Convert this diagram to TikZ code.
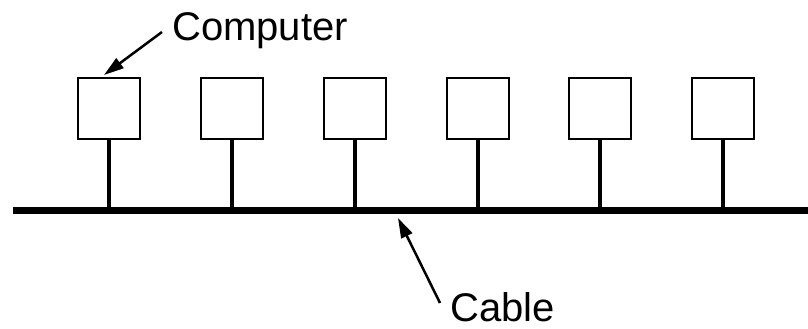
\documentclass[tikz,border=0pt]{standalone}
\usepackage{fontspec}
\setmainfont{Liberation Sans}
\usetikzlibrary{arrows.meta}
\begin{document}
\begin{tikzpicture}[x=1pt,y=1pt,
  computer/.style={draw,line width=2pt,minimum width=62pt,minimum height=61pt,inner sep=0pt,fill=white},
  stem/.style={line width=4.5pt},
  cableline/.style={line width=7pt},
  pointer/.style={line width=2.5pt,-{Triangle[length=20pt,width=12pt]}},
  lbl/.style={font=\fontsize{40}{44}\selectfont,inner sep=0pt,anchor=base west}]
\useasboundingbox (0,0) rectangle (808,329);
\foreach \i/\x in {1/109,2/232,3/355,4/478,5/600,6/723}{
  \node[computer] (c\i) at (\x,220.5) {};
  \coordinate (b\i) at (\x,118.5);
  \draw[stem] (c\i.south) -- (b\i);
}
\coordinate (cl) at (13,118.5);
\coordinate (cr) at (808,118.5);
\draw[cableline] (cl) -- (cr);
\node[lbl] (comp) at (172,288) {Computer};
\node[lbl] (cab) at (450,7) {Cable};
\coordinate (ca) at (162,297);
\coordinate (ct) at (104,254);
\draw[pointer] (ca) -- (ct);
\coordinate (ka) at (440,26);
\coordinate (kt) at (398,111);
\draw[pointer] (ka) -- (kt);
\end{tikzpicture}
\end{document}
